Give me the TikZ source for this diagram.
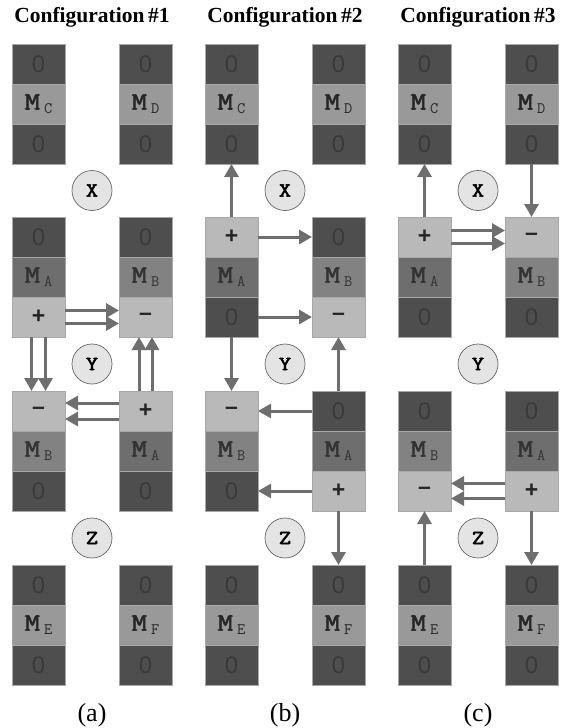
\documentclass[tikz,border=0pt]{standalone}
\usepackage{fontspec}
\setmainfont{Liberation Serif}
\newfontfamily\sansfont{Liberation Sans}
\newfontfamily\courbold[FakeBold=2.5,FakeStretch=1.2]{Latin Modern Mono}
\usetikzlibrary{arrows.meta,positioning,calc}
\definecolor{zerogray}{HTML}{4E4E4E}
\definecolor{zerotext}{HTML}{3A3A3A}
\definecolor{mlight}{HTML}{999999}
\definecolor{mAgray}{HTML}{6E6E6E}
\definecolor{mBgray}{HTML}{828282}
\definecolor{signgray}{HTML}{B9B9B9}
\definecolor{celledge}{HTML}{A8A8A8}
\definecolor{arrowgray}{HTML}{6E6E6E}
\definecolor{sitefill}{HTML}{E4E4E4}
\newcommand{\Msub}[1]{{\courbold\fontsize{25}{25}\selectfont M}\hspace{4pt}\raisebox{-4pt}{\ttfamily\fontsize{16}{16}\selectfont #1}}

\begin{document}
\begin{tikzpicture}[x=1pt,y=-1pt,
cell/.style={draw=celledge,line width=.7pt,minimum width=53pt,minimum height=40pt,inner sep=0pt,outer sep=0pt},
zero/.style={cell,fill=zerogray,text=zerotext,font=\sansfont\fontsize{24}{24}\selectfont},
mC/.style={cell,fill=mlight,text=black!85},
mA/.style={cell,fill=mAgray,text=black!80},
mB/.style={cell,fill=mBgray,text=black!80},
sign/.style={cell,fill=signgray,text=black!85,font=\sansfont\bfseries\fontsize{23}{23}\selectfont},
site/.style={circle,draw=black!60,line width=.7pt,fill=sitefill,minimum size=40pt,inner sep=0pt,font=\courbold\fontsize{20}{20}\selectfont},
arr/.style={draw=arrowgray,line width=3pt,-{Triangle[length=13pt,width=14pt]}},
title/.style={anchor=base,font=\bfseries\fontsize{21.5}{21.5}\selectfont},
caption/.style={anchor=base,font=\fontsize{26}{26}\selectfont}]
\useasboundingbox (0,0) rectangle (562,728);

% titles and captions
\node[title] (ta) at (92,23) {Configuration\,\#1};
\node[title] (tb) at (285,23) {Configuration\,\#2};
\node[title] (tc) at (478,23) {Configuration\,\#3};
\node[caption] (ca) at (92,721) {(a)};
\node[caption] (cb) at (285,721) {(b)};
\node[caption] (cc) at (478,721) {(c)};

% ---- configuration 1
\node[zero] (aC1) at (38.5,64) {0};
\node[mC] (aC2) at (38.5,104) {\Msub{C}};
\node[zero] (aC3) at (38.5,144) {0};
\node[zero] (aD1) at (145.5,64) {0};
\node[mC] (aD2) at (145.5,104) {\Msub{D}};
\node[zero] (aD3) at (145.5,144) {0};
\node[site] (aX) at (92,190.5) {X};
\node[zero] (aUL1) at (38.5,237) {0};
\node[mA] (aUL2) at (38.5,277) {\Msub{A}};
\node[sign] (aUL3) at (38.5,317) {+};
\node[zero] (aUR1) at (145.5,237) {0};
\node[mB] (aUR2) at (145.5,277) {\Msub{B}};
\node[sign] (aUR3) at (145.5,317) {–};
\node[site] (aY) at (92,364) {Y};
\node[sign] (aLL1) at (38.5,411) {–};
\node[mB] (aLL2) at (38.5,451) {\Msub{B}};
\node[zero] (aLL3) at (38.5,491) {0};
\node[sign] (aLR1) at (145.5,411) {+};
\node[mA] (aLR2) at (145.5,451) {\Msub{A}};
\node[zero] (aLR3) at (145.5,491) {0};
\node[site] (aZ) at (92,538) {Z};
\node[zero] (aE1) at (38.5,585) {0};
\node[mC] (aE2) at (38.5,625) {\Msub{E}};
\node[zero] (aE3) at (38.5,665) {0};
\node[zero] (aF1) at (145.5,585) {0};
\node[mC] (aF2) at (145.5,625) {\Msub{F}};
\node[zero] (aF3) at (145.5,665) {0};
\draw[arr] ([yshift=6.5pt]aUL3.east) -- ([yshift=6.5pt]aUR3.west);
\draw[arr] ([yshift=-6.5pt]aUL3.east) -- ([yshift=-6.5pt]aUR3.west);
\draw[arr] ([xshift=-7pt]aUL3.south) -- ([xshift=-7pt]aLL1.north);
\draw[arr] ([xshift=7pt]aUL3.south) -- ([xshift=7pt]aLL1.north);
\draw[arr] ([xshift=-6.5pt]aLR1.north) -- ([xshift=-6.5pt]aUR3.south);
\draw[arr] ([xshift=6.5pt]aLR1.north) -- ([xshift=6.5pt]aUR3.south);
\draw[arr] ([yshift=8pt]aLR1.west) -- ([yshift=8pt]aLL1.east);
\draw[arr] ([yshift=-8pt]aLR1.west) -- ([yshift=-8pt]aLL1.east);

% ---- configuration 2
\node[zero] (bC1) at (231.5,64) {0};
\node[mC] (bC2) at (231.5,104) {\Msub{C}};
\node[zero] (bC3) at (231.5,144) {0};
\node[zero] (bD1) at (338.5,64) {0};
\node[mC] (bD2) at (338.5,104) {\Msub{D}};
\node[zero] (bD3) at (338.5,144) {0};
\node[site] (bX) at (285,190.5) {X};
\node[sign] (bUL1) at (231.5,237) {+};
\node[mA] (bUL2) at (231.5,277) {\Msub{A}};
\node[zero] (bUL3) at (231.5,317) {0};
\node[zero] (bUR1) at (338.5,237) {0};
\node[mB] (bUR2) at (338.5,277) {\Msub{B}};
\node[sign] (bUR3) at (338.5,317) {–};
\node[site] (bY) at (285,364) {Y};
\node[sign] (bLL1) at (231.5,411) {–};
\node[mB] (bLL2) at (231.5,451) {\Msub{B}};
\node[zero] (bLL3) at (231.5,491) {0};
\node[zero] (bLR1) at (338.5,411) {0};
\node[mA] (bLR2) at (338.5,451) {\Msub{A}};
\node[sign] (bLR3) at (338.5,491) {+};
\node[site] (bZ) at (285,538) {Z};
\node[zero] (bE1) at (231.5,585) {0};
\node[mC] (bE2) at (231.5,625) {\Msub{E}};
\node[zero] (bE3) at (231.5,665) {0};
\node[zero] (bF1) at (338.5,585) {0};
\node[mC] (bF2) at (338.5,625) {\Msub{F}};
\node[zero] (bF3) at (338.5,665) {0};
\draw[arr] (bUL1.north) -- (bC3.south);
\draw[arr] (bUL1.east) -- (bUR1.west);
\draw[arr] (bUL3.east) -- (bUR3.west);
\draw[arr] (bUL3.south) -- (bLL1.north);
\draw[arr] (bLR1.north) -- (bUR3.south);
\draw[arr] (bLR1.west) -- (bLL1.east);
\draw[arr] (bLR3.west) -- (bLL3.east);
\draw[arr] (bLR3.south) -- (bF1.north);

% ---- configuration 3
\node[zero] (cC1) at (424.5,64) {0};
\node[mC] (cC2) at (424.5,104) {\Msub{C}};
\node[zero] (cC3) at (424.5,144) {0};
\node[zero] (cD1) at (531.5,64) {0};
\node[mC] (cD2) at (531.5,104) {\Msub{D}};
\node[zero] (cD3) at (531.5,144) {0};
\node[site] (cX) at (478,190.5) {X};
\node[sign] (cUL1) at (424.5,237) {+};
\node[mA] (cUL2) at (424.5,277) {\Msub{A}};
\node[zero] (cUL3) at (424.5,317) {0};
\node[sign] (cUR1) at (531.5,237) {–};
\node[mB] (cUR2) at (531.5,277) {\Msub{B}};
\node[zero] (cUR3) at (531.5,317) {0};
\node[site] (cY) at (478,364) {Y};
\node[zero] (cLL1) at (424.5,411) {0};
\node[mB] (cLL2) at (424.5,451) {\Msub{B}};
\node[sign] (cLL3) at (424.5,491) {–};
\node[zero] (cLR1) at (531.5,411) {0};
\node[mA] (cLR2) at (531.5,451) {\Msub{A}};
\node[sign] (cLR3) at (531.5,491) {+};
\node[site] (cZ) at (478,538) {Z};
\node[zero] (cE1) at (424.5,585) {0};
\node[mC] (cE2) at (424.5,625) {\Msub{E}};
\node[zero] (cE3) at (424.5,665) {0};
\node[zero] (cF1) at (531.5,585) {0};
\node[mC] (cF2) at (531.5,625) {\Msub{F}};
\node[zero] (cF3) at (531.5,665) {0};
\draw[arr] (cUL1.north) -- (cC3.south);
\draw[arr] (cD3.south) -- (cUR1.north);
\draw[arr] ([yshift=6.5pt]cUL1.east) -- ([yshift=6.5pt]cUR1.west);
\draw[arr] ([yshift=-6.5pt]cUL1.east) -- ([yshift=-6.5pt]cUR1.west);
\draw[arr] ([yshift=7.5pt]cLR3.west) -- ([yshift=7.5pt]cLL3.east);
\draw[arr] ([yshift=-7.5pt]cLR3.west) -- ([yshift=-7.5pt]cLL3.east);
\draw[arr] (cE1.north) -- (cLL3.south);
\draw[arr] (cLR3.south) -- (cF1.north);
\end{tikzpicture}
\end{document}
